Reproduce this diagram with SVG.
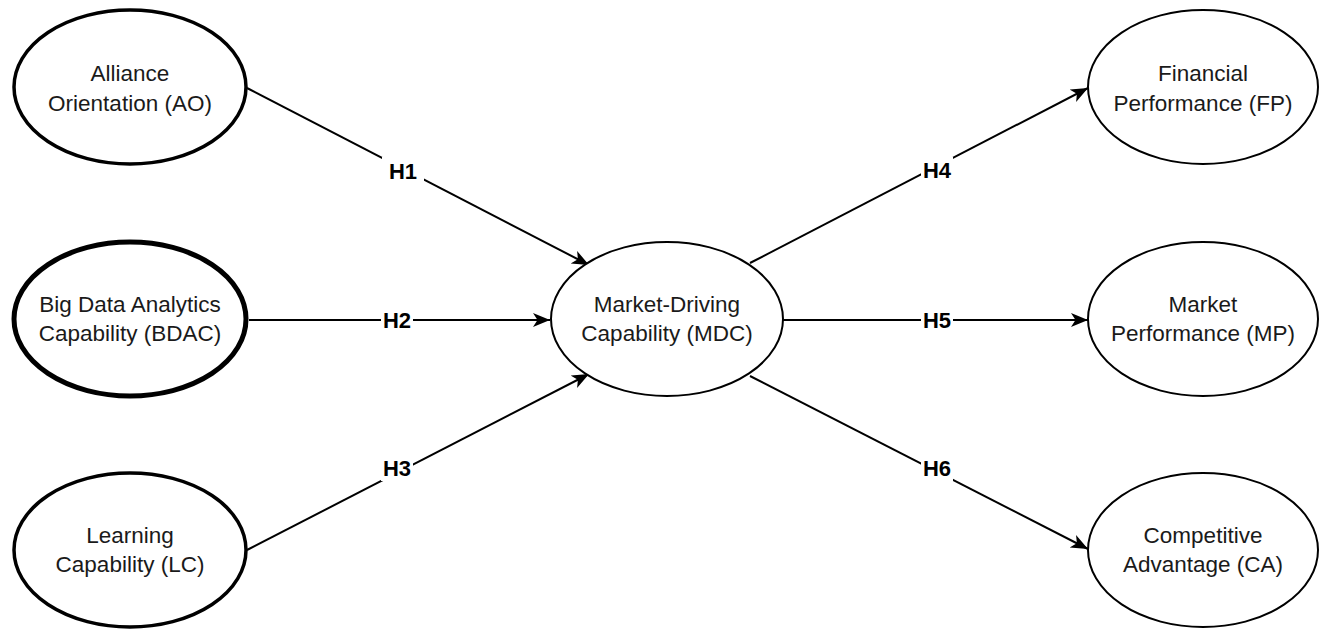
<svg xmlns="http://www.w3.org/2000/svg" width="1323" height="629" viewBox="0 0 1323 629">
<style>
.n{fill:#fff;stroke:#000}
.t{font-family:"Liberation Sans",Arial,sans-serif;font-size:22.5px;fill:#1a1a1a;text-anchor:middle}
.c{stroke:#000;stroke-width:2;fill:none;marker-end:url(#ah)}
.lb{font-family:"Liberation Sans",Arial,sans-serif;font-size:22px;font-weight:bold;fill:#000;text-anchor:middle}
.bg{fill:#fff}
</style>
<defs>
<marker id="ah" markerUnits="userSpaceOnUse" markerWidth="20" markerHeight="16" refX="17" refY="7" orient="auto">
<path d="M0,0 L17,7 L0,14 L4.5,7 z" fill="#000"/>
</marker>
</defs>
<rect width="1323" height="629" fill="#fff"/>
<g id="connectors">
<line class="c" x1="247" y1="88" x2="589" y2="265"/>
<line class="c" x1="249" y1="320" x2="550" y2="320"/>
<line class="c" x1="247" y1="550" x2="589" y2="374"/>
<line class="c" x1="750" y1="263" x2="1088" y2="88"/>
<line class="c" x1="783" y1="320" x2="1088" y2="320"/>
<line class="c" x1="750" y1="376" x2="1088" y2="549"/>
<g id="labels">
<rect class="bg" x="382" y="157" width="42" height="27"/><text class="lb" x="403" y="179">H1</text>
<rect class="bg" x="381" y="307" width="32" height="26"/><text class="lb" x="397" y="328">H2</text>
<rect class="bg" x="381" y="455" width="32" height="26"/><text class="lb" x="397" y="476">H3</text>
<rect class="bg" x="921" y="157" width="32" height="26"/><text class="lb" x="937" y="178">H4</text>
<rect class="bg" x="921" y="307" width="32" height="26"/><text class="lb" x="937" y="328">H5</text>
<rect class="bg" x="921" y="455" width="32" height="26"/><text class="lb" x="937" y="476">H6</text>
</g>
</g>
<g id="AO"><ellipse class="n" cx="130" cy="87" rx="116" ry="77" stroke-width="3.5"/><text class="t" x="130" y="81">Alliance</text><text class="t" x="130" y="111">Orientation (AO)</text></g>
<g id="BDAC"><ellipse class="n" cx="130" cy="319" rx="116" ry="77" stroke-width="5"/><text class="t" x="130" y="312">Big Data Analytics</text><text class="t" x="130" y="341">Capability (BDAC)</text></g>
<g id="LC"><ellipse class="n" cx="130" cy="550" rx="116" ry="77" stroke-width="3.5"/><text class="t" x="130" y="543">Learning</text><text class="t" x="130" y="572">Capability (LC)</text></g>
<g id="MDC"><ellipse class="n" cx="667" cy="319" rx="116" ry="77" stroke-width="2"/><text class="t" x="667" y="312">Market-Driving</text><text class="t" x="667" y="341">Capability (MDC)</text></g>
<g id="FP"><ellipse class="n" cx="1203" cy="87" rx="115" ry="77" stroke-width="2"/><text class="t" x="1203" y="81">Financial</text><text class="t" x="1203" y="111">Performance (FP)</text></g>
<g id="MP"><ellipse class="n" cx="1203" cy="319" rx="115" ry="77" stroke-width="2"/><text class="t" x="1203" y="312">Market</text><text class="t" x="1203" y="341">Performance (MP)</text></g>
<g id="CA"><ellipse class="n" cx="1203" cy="550" rx="115" ry="77" stroke-width="2"/><text class="t" x="1203" y="543">Competitive</text><text class="t" x="1203" y="572">Advantage (CA)</text></g>
</svg>
